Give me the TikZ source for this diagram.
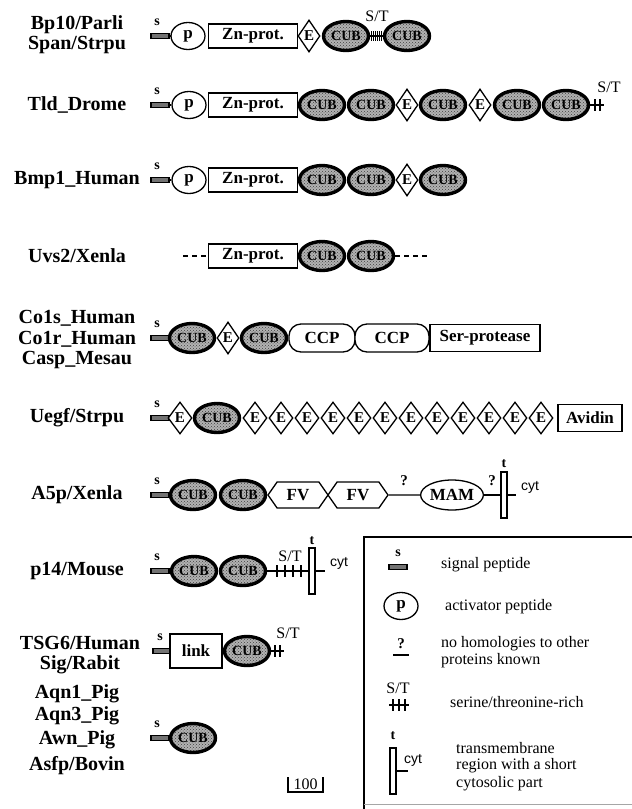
\documentclass[tikz,border=0pt]{standalone}
\usepackage{fontspec}
\setmainfont{Liberation Serif}
\newfontfamily\helvfont{Liberation Sans}
\usetikzlibrary{shapes.geometric,shapes.misc,shapes.symbols,patterns}
\begin{document}
\begin{tikzpicture}[x=1pt,y=-1pt,
  lbl/.style={font=\fontsize{20}{22}\selectfont\bfseries, inner sep=0},
  dom/.style={draw=black, line width=1.3pt, inner sep=0, fill=white,
    font=\fontsize{17}{19}\selectfont\bfseries},
  cub/.style={ellipse, draw=black, line width=3.4pt, inner sep=0,
    preaction={fill=gray!60}, pattern=crosshatch dots, pattern color=black!75,
    minimum width=45pt, minimum height=29pt, font=\fontsize{14}{16}\selectfont\bfseries},
  edom/.style={dom, diamond, minimum width=22pt, minimum height=32pt,
    font=\fontsize{15}{16}\selectfont\bfseries},
  pdom/.style={dom, ellipse, minimum width=34pt, minimum height=27pt},
  znbox/.style={dom, rectangle, minimum width=89pt, minimum height=24pt},
  ccp/.style={dom, rectangle, rounded corners=12pt, minimum height=28pt},
  fv/.style={dom, signal, signal to=west and east, signal pointer angle=110,
    minimum width=60pt, minimum height=26pt},
  mam/.style={dom, ellipse, minimum width=62pt, minimum height=30pt},
  tmbox/.style={draw=black, line width=1.2pt, fill=white, rectangle, inner sep=0,
    minimum width=6pt, minimum height=46pt},
  sigbar/.style={draw=black, line width=1.2pt, fill=black!55, rectangle, inner sep=0,
    minimum width=18pt, minimum height=5.5pt},
  slbl/.style={font=\fontsize{14}{15}\selectfont\bfseries, inner sep=0},
  stlbl/.style={font=\fontsize{16}{17}\selectfont, inner sep=0},
  qlbl/.style={font=\fontsize{15}{16}\selectfont\bfseries, inner sep=0},
  cytlbl/.style={font=\helvfont\fontsize{14}{16}\selectfont, inner sep=0, anchor=west},
  leg/.style={font=\fontsize{16}{17}\selectfont, inner sep=0, anchor=west},
  link/.style={line width=1.3pt},
  tick/.style={line width=1.2pt}
]
\useasboundingbox (0,0) rectangle (632,809);

% ---------------- species labels ----------------
\node[lbl] (n1a) at (77,25) {Bp10/Parli};
\node[lbl] (n1b) at (77,45) {Span/Strpu};
\node[lbl] (n2) at (77,105) {Tld\_Drome};
\node[lbl] (n3) at (77,180) {Bmp1\_Human};
\node[lbl] (n4) at (77,256) {Uvs2/Xenla};
\node[lbl] (n5a) at (77,318) {Co1s\_Human};
\node[lbl] (n5b) at (77,339) {Co1r\_Human};
\node[lbl] (n5c) at (77,360) {Casp\_Mesau};
\node[lbl] (n6) at (77,418) {Uegf/Strpu};
\node[lbl] (n7) at (77,495) {A5p/Xenla};
\node[lbl] (n8) at (77,571) {p14/Mouse};
\node[lbl] (n9a) at (80,643) {TSG6/Human};
\node[lbl] (n9b) at (80,665) {Sig/Rabit};
\node[lbl] (n10a) at (77,694) {Aqn1\_Pig};
\node[lbl] (n10b) at (77,716) {Aqn3\_Pig};
\node[lbl] (n10c) at (77,740) {Awn\_Pig};
\node[lbl] (n10d) at (77,766) {Asfp/Bovin};

% ---------------- Bp10 / Span ----------------
\node[sigbar] (r1s) at (160,36) {};
\node[slbl] (r1sl) at (157,22) {s};
\node[pdom] (r1p) at (188,36) {p};
\node[znbox] (r1z) at (253,36) {Zn-prot.};
\node[edom] (r1e) at (309,36) {E};
\node[cub] (r1c1) at (346,36) {CUB};
\node[cub] (r1c2) at (407,36) {CUB};
\draw[link] (r1s) -- (r1p);
\draw[link] (r1c1) -- (r1c2);
\foreach \x in {371.5,373.5,...,381.5} \draw[line width=0.9pt] (\x,31) -- (\x,41);
\node[stlbl] (r1st) at (377,16) {S/T};

% ---------------- Tld_Drome ----------------
\node[sigbar] (r2s) at (160,105) {};
\node[slbl] (r2sl) at (157,91) {s};
\node[pdom] (r2p) at (189,105) {p};
\node[znbox] (r2z) at (253,105) {Zn-prot.};
\node[cub] (r2c1) at (322,105) {CUB};
\node[cub] (r2c2) at (371,105) {CUB};
\node[edom] (r2e1) at (407,105) {E};
\node[cub] (r2c3) at (443,105) {CUB};
\node[edom] (r2e2) at (480,105) {E};
\node[cub] (r2c4) at (517,105) {CUB};
\node[cub] (r2c5) at (566,105) {CUB};
\coordinate (r2end) at (604,105);
\draw[link] (r2s) -- (r2p);
\draw[link] (r2c5) -- (r2end);
\foreach \x in {595,600} \draw[tick] (\x,99) -- (\x,111);
\node[stlbl] (r2st) at (609,87) {S/T};

% ---------------- Bmp1_Human ----------------
\node[sigbar] (r3s) at (160,180) {};
\node[slbl] (r3sl) at (157,166) {s};
\node[pdom] (r3p) at (189,180) {p};
\node[znbox] (r3z) at (253,180) {Zn-prot.};
\node[cub] (r3c1) at (322,180) {CUB};
\node[cub] (r3c2) at (371,180) {CUB};
\node[edom] (r3e) at (407,180) {E};
\node[cub] (r3c3) at (443,180) {CUB};
\draw[link] (r3s) -- (r3p);

% ---------------- Uvs2/Xenla ----------------
\coordinate (r4l) at (183,256);
\coordinate (r4r) at (428,256);
\node[znbox] (r4z) at (253,256) {Zn-prot.};
\node[cub] (r4c1) at (322,256) {CUB};
\node[cub] (r4c2) at (371,256) {CUB};
\draw[link, dash pattern=on 5pt off 4pt] (r4l) -- (r4z);
\draw[link, dash pattern=on 5pt off 4pt] (r4c2) -- (r4r);

% ---------------- C1s / C1r / Casp ----------------
\node[sigbar] (r5s) at (160,338) {};
\node[slbl] (r5sl) at (157,324) {s};
\node[cub] (r5c1) at (192,338) {CUB};
\node[edom] (r5e) at (228,338) {E};
\node[cub] (r5c2) at (264,338) {CUB};
\node[ccp, minimum width=66pt] (r5p1) at (322,338) {CCP};
\node[ccp, minimum width=74pt] (r5p2) at (392,338) {CCP};
\node[dom, rectangle, minimum width=110pt, minimum height=27pt] (r5sp) at (485,338) {Ser-protease};

% ---------------- Uegf/Strpu ----------------
\node[sigbar] (r6s) at (160,418) {};
\node[slbl] (r6sl) at (157,404) {s};
\node[edom, minimum width=24pt] (r6e0) at (180,418) {E};
\node[cub] (r6c) at (217,418) {CUB};
\foreach \i in {1,...,12}
  \node[edom, minimum width=24pt] (r6e\i) at ({229+26*\i},418) {E};
\node[dom, rectangle, minimum width=64pt, minimum height=27pt] (r6av) at (590,418) {Avidin};

% ---------------- A5p/Xenla ----------------
\node[sigbar] (r7s) at (160,495) {};
\node[slbl] (r7sl) at (157,481) {s};
\node[cub] (r7c1) at (193,495) {CUB};
\node[cub] (r7c2) at (243,495) {CUB};
\node[fv] (r7f1) at (298,495) {FV};
\node[fv] (r7f2) at (358,495) {FV};
\node[mam] (r7m) at (452,495) {MAM};
\node[tmbox] (r7t) at (504,495) {};
\coordinate (r7cyt) at (516,495);
\draw[link] (r7f2) -- (r7m);
\draw[link] (r7m) -- (r7t);
\draw[link] (r7t) -- (r7cyt);
\node[qlbl] (r7q1) at (404,481) {?};
\node[qlbl] (r7q2) at (492,481) {?};
\node[slbl] (r7tl) at (504,464) {t};
\node[cytlbl] (r7cl) at (521,487) {cyt};

% ---------------- p14/Mouse ----------------
\node[sigbar] (r8s) at (160,571) {};
\node[slbl] (r8sl) at (157,557) {s};
\node[cub] (r8c1) at (194,571) {CUB};
\node[cub] (r8c2) at (243,571) {CUB};
\node[tmbox] (r8t) at (312,571) {};
\coordinate (r8cyt) at (325,571);
\draw[link] (r8c2) -- (r8t);
\draw[link] (r8t) -- (r8cyt);
\foreach \x in {277,285,293,301} \draw[tick] (\x,565) -- (\x,577);
\node[stlbl] (r8st) at (290,556) {S/T};
\node[slbl] (r8tl) at (312,541) {t};
\node[cytlbl] (r8cl) at (330,563) {cyt};

% ---------------- TSG6 / Sig ----------------
\node[sigbar] (r9s) at (162,651) {};
\node[slbl] (r9sl) at (160,637) {s};
\node[dom, rectangle, minimum width=52pt, minimum height=34pt] (r9l) at (196,651) {link};
\node[cub] (r9c) at (247,651) {CUB};
\coordinate (r9end) at (284,651);
\draw[link] (r9c) -- (r9end);
\foreach \x in {275,280} \draw[tick] (\x,645) -- (\x,657);
\node[stlbl] (r9st) at (288,633) {S/T};

% ---------------- Aqn / Awn / Asfp ----------------
\node[sigbar] (r10s) at (160,738) {};
\node[slbl] (r10sl) at (157,724) {s};
\node[cub] (r10c) at (193,738) {CUB};

% ---------------- scale bar ----------------
\draw[line width=1.5pt] (288,777) -- (288,792) -- (323,792) -- (323,777);
\node[stlbl] (scale) at (305.5,784) {100};

% ---------------- legend ----------------
\draw[line width=1.3pt] (632,537) -- (364,537) -- (364,809);
\draw[line width=0.8pt, gray!70] (364,804) -- (632,804);

\node[slbl] (ls) at (398,553) {s};
\node[sigbar] (lsb) at (398,567) {};
\node[leg] (lst) at (441,565) {signal peptide};

\node[pdom] (lp) at (401,606) {p};
\node[leg] (lpt) at (445,607) {activator peptide};

\node[qlbl] (lq) at (401,644) {?};
\coordinate (lqa) at (393,655);
\coordinate (lqb) at (409,655);
\draw[link] (lqa) -- (lqb);
\node[leg] (lqt1) at (441,644) {no homologies to other};
\node[leg] (lqt2) at (441,661) {proteins known};

\node[stlbl] (lst2) at (398,688) {S/T};
\coordinate (lsta) at (389,705);
\coordinate (lstb) at (409,705);
\draw[link] (lsta) -- (lstb);
\foreach \x in {393,399,405} \draw[tick] (\x,699) -- (\x,711);
\node[leg] (lstt) at (450,702) {serine/threonine-rich};

\node[slbl] (lt) at (393,736) {t};
\node[tmbox, minimum height=46pt] (ltm) at (393,771) {};
\coordinate (lcyt) at (408,771);
\draw[link] (ltm) -- (lcyt);
\node[cytlbl] (lcl) at (404,760) {cyt};
\node[leg] (ltt1) at (456,748) {transmembrane};
\node[leg] (ltt2) at (456,766) {region with a short};
\node[leg] (ltt3) at (456,784) {cytosolic part};
\end{tikzpicture}
\end{document}
